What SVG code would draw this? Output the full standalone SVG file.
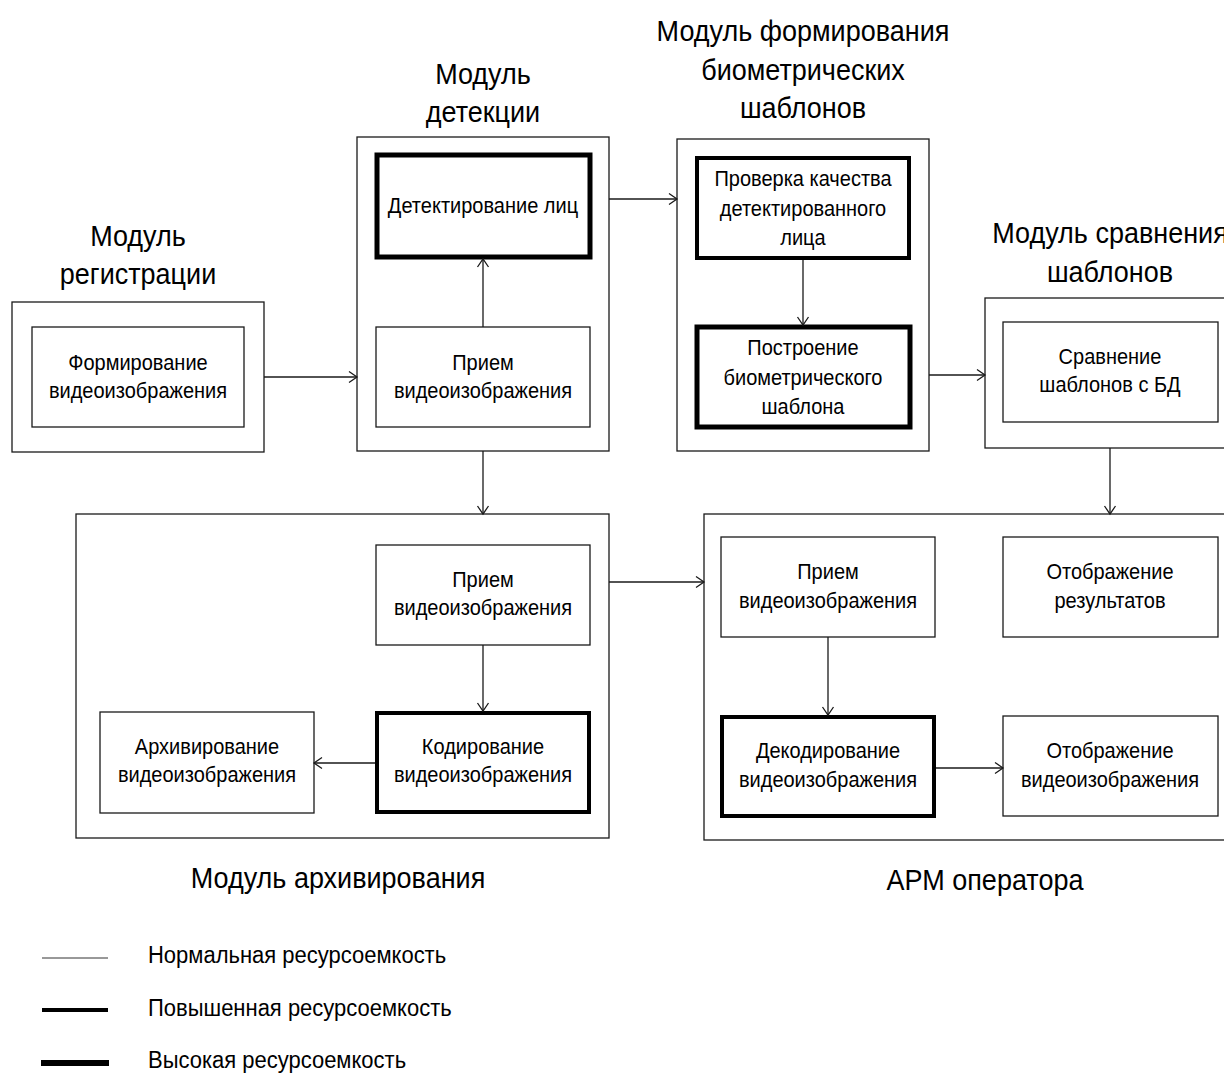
<svg xmlns="http://www.w3.org/2000/svg" width="1224" height="1075" viewBox="0 0 1224 1075">
<defs>
<style>
.box{fill:#fff;stroke:#1a1a1a;stroke-width:1.3}
.b4{fill:#fff;stroke:#000;stroke-width:4}
.b5{fill:#fff;stroke:#000;stroke-width:5}
.t{font-family:"Liberation Sans",Arial,sans-serif;font-size:20px;fill:#000;text-anchor:middle}
.h{font-family:"Liberation Sans",Arial,sans-serif;font-size:27px;fill:#000;text-anchor:middle}
.lg{font-family:"Liberation Sans",Arial,sans-serif;font-size:22px;fill:#000}
.c{stroke:#1a1a1a;stroke-width:1.3;fill:none;marker-end:url(#arr)}
</style>
<marker id="arr" markerUnits="userSpaceOnUse" markerWidth="12" markerHeight="14" viewBox="0 0 12 14" refX="10" refY="7" orient="auto">
<path d="M2,1.5 L10,7 L2,12.5" fill="none" stroke="#1a1a1a" stroke-width="1.3"/>
</marker>
</defs>
<rect width="1224" height="1075" fill="#fff"/>

<g id="reg">
<text class="h" x="138" y="246" transform="matrix(1 0 0 1.1 0 -24.6)">Модуль</text>
<text class="h" x="138" y="284" transform="matrix(1 0 0 1.1 0 -28.4)">регистрации</text>
<rect class="box" x="12" y="302" width="252" height="150"/>
<rect class="box" x="32" y="327" width="212" height="100"/>
<text class="t" x="138" y="370" transform="matrix(1 0 0 1.1 0 -37)">Формирование</text>
<text class="t" x="138" y="398" transform="matrix(1 0 0 1.1 0 -39.8)">видеоизображения</text>
</g>

<g id="det">
<text class="h" x="483" y="84" transform="matrix(1 0 0 1.1 0 -8.4)">Модуль</text>
<text class="h" x="483" y="122" transform="matrix(1 0 0 1.1 0 -12.2)">детекции</text>
<rect class="box" x="357" y="137" width="252" height="314"/>
<rect class="b5" x="377" y="155" width="213" height="102"/>
<text class="t" x="483" y="213" transform="matrix(1 0 0 1.1 0 -21.3)">Детектирование лиц</text>
<rect class="box" x="376" y="327" width="214" height="100"/>
<text class="t" x="483" y="370" transform="matrix(1 0 0 1.1 0 -37)">Прием</text>
<text class="t" x="483" y="398" transform="matrix(1 0 0 1.1 0 -39.8)">видеоизображения</text>
</g>

<g id="bio">
<text class="h" x="803" y="41" transform="matrix(1 0 0 1.1 0 -4.1)">Модуль формирования</text>
<text class="h" x="803" y="80" transform="matrix(1 0 0 1.1 0 -8)">биометрических</text>
<text class="h" x="803" y="118" transform="matrix(1 0 0 1.1 0 -11.8)">шаблонов</text>
<rect class="box" x="677" y="139" width="252" height="312"/>
<rect class="b4" x="697" y="158" width="212" height="100"/>
<text class="t" x="803" y="186" transform="matrix(1 0 0 1.1 0 -18.6)">Проверка качества</text>
<text class="t" x="803" y="216" transform="matrix(1 0 0 1.1 0 -21.6)">детектированного</text>
<text class="t" x="803" y="245" transform="matrix(1 0 0 1.1 0 -24.5)">лица</text>
<rect class="b5" x="697" y="327" width="213" height="100"/>
<text class="t" x="803" y="355" transform="matrix(1 0 0 1.1 0 -35.5)">Построение</text>
<text class="t" x="803" y="385" transform="matrix(1 0 0 1.1 0 -38.5)">биометрического</text>
<text class="t" x="803" y="414" transform="matrix(1 0 0 1.1 0 -41.4)">шаблона</text>
</g>

<g id="cmp">
<text class="h" x="1110" y="243" transform="matrix(1 0 0 1.1 0 -24.3)">Модуль сравнения</text>
<text class="h" x="1110" y="282" transform="matrix(1 0 0 1.1 0 -28.2)">шаблонов</text>
<rect class="box" x="985" y="298" width="260" height="150"/>
<rect class="box" x="1003" y="322" width="215" height="100"/>
<text class="t" x="1110" y="364" transform="matrix(1 0 0 1.1 0 -36.4)">Сравнение</text>
<text class="t" x="1110" y="392" transform="matrix(1 0 0 1.1 0 -39.2)">шаблонов с БД</text>
</g>

<g id="arch">
<rect class="box" x="76" y="514" width="533" height="324"/>
<rect class="box" x="376" y="545" width="214" height="100"/>
<text class="t" x="483" y="587" transform="matrix(1 0 0 1.1 0 -58.7)">Прием</text>
<text class="t" x="483" y="615" transform="matrix(1 0 0 1.1 0 -61.5)">видеоизображения</text>
<rect class="b4" x="377" y="713" width="212" height="99"/>
<text class="t" x="483" y="754" transform="matrix(1 0 0 1.1 0 -75.4)">Кодирование</text>
<text class="t" x="483" y="782" transform="matrix(1 0 0 1.1 0 -78.2)">видеоизображения</text>
<rect class="box" x="100" y="712" width="214" height="101"/>
<text class="t" x="207" y="754" transform="matrix(1 0 0 1.1 0 -75.4)">Архивирование</text>
<text class="t" x="207" y="782" transform="matrix(1 0 0 1.1 0 -78.2)">видеоизображения</text>
<text class="h" x="338" y="888" transform="matrix(1 0 0 1.1 0 -88.8)">Модуль архивирования</text>
</g>

<g id="arm">
<rect class="box" x="704" y="514" width="540" height="326"/>
<rect class="box" x="721" y="537" width="214" height="100"/>
<text class="t" x="828" y="579" transform="matrix(1 0 0 1.1 0 -57.9)">Прием</text>
<text class="t" x="828" y="608" transform="matrix(1 0 0 1.1 0 -60.8)">видеоизображения</text>
<rect class="box" x="1003" y="537" width="215" height="100"/>
<text class="t" x="1110" y="579" transform="matrix(1 0 0 1.1 0 -57.9)">Отображение</text>
<text class="t" x="1110" y="608" transform="matrix(1 0 0 1.1 0 -60.8)">результатов</text>
<rect class="b4" x="722" y="717" width="212" height="99"/>
<text class="t" x="828" y="758" transform="matrix(1 0 0 1.1 0 -75.8)">Декодирование</text>
<text class="t" x="828" y="787" transform="matrix(1 0 0 1.1 0 -78.7)">видеоизображения</text>
<rect class="box" x="1003" y="716" width="215" height="100"/>
<text class="t" x="1110" y="758" transform="matrix(1 0 0 1.1 0 -75.8)">Отображение</text>
<text class="t" x="1110" y="787" transform="matrix(1 0 0 1.1 0 -78.7)">видеоизображения</text>
<text class="h" x="985" y="890" transform="matrix(1 0 0 1.1 0 -89)">АРМ оператора</text>
</g>

<g id="connectors">
<path class="c" d="M264,377 H357"/>
<path class="c" d="M483,327 V259"/>
<path class="c" d="M609,199 H677"/>
<path class="c" d="M803,260 V325"/>
<path class="c" d="M929,375 H985"/>
<path class="c" d="M483,451 V514"/>
<path class="c" d="M1110,448 V514"/>
<path class="c" d="M609,582 H704"/>
<path class="c" d="M483,645 V711"/>
<path class="c" d="M375,763 H314"/>
<path class="c" d="M828,637 V715"/>
<path class="c" d="M936,768 H1003"/>
</g>

<g id="legend">
<line x1="42" y1="958" x2="108" y2="958" stroke="#333" stroke-width="1"/>
<line x1="42" y1="1010" x2="108" y2="1010" stroke="#000" stroke-width="4"/>
<line x1="41" y1="1063" x2="109" y2="1063" stroke="#000" stroke-width="6"/>
<text class="lg" x="148" y="963" transform="matrix(1 0 0 1.1 0 -96.3)">Нормальная ресурсоемкость</text>
<text class="lg" x="148" y="1016" transform="matrix(1 0 0 1.1 0 -101.6)">Повышенная ресурсоемкость</text>
<text class="lg" x="148" y="1068" transform="matrix(1 0 0 1.1 0 -106.8)">Высокая ресурсоемкость</text>
</g>
</svg>
